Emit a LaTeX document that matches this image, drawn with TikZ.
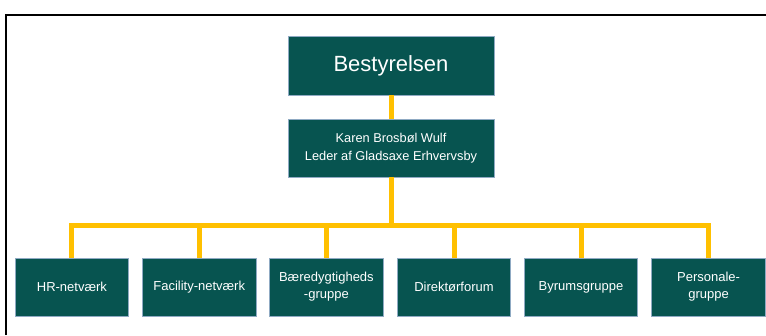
\documentclass[tikz,border=0pt]{standalone}
\usepackage{fontspec}
\setmainfont{Liberation Sans}
\usetikzlibrary{positioning}
\definecolor{gxteal}{HTML}{075450}
\definecolor{gxgold}{HTML}{FFC000}
\definecolor{gxedge}{HTML}{8FAAC3}
\tikzset{
        org_box/.style={draw=gxedge, line width=0.8pt, fill=gxteal, text=white,
                        align=center, inner sep=0pt, outer sep=0pt, minimum height=58pt},
        org_top/.style={org_box, minimum width=206pt, minimum height=59pt,
                        font=\fontsize{22}{26}\selectfont},
        org_lead/.style={org_box, minimum width=206pt, font=\fontsize{12.8}{17.5}\selectfont},
        org_unit/.style={org_box, minimum width=113.5pt, font=\fontsize{13}{17}\selectfont},
        org_line/.style={line width=5pt, draw=gxgold},
        org_frame/.style={line width=2pt, draw=black}
    }

\begin{document}
\begin{tikzpicture}[x=1pt, y=-1pt]
    \useasboundingbox (0,0) rectangle (766,335);
    \draw[org_frame] (6,335) -- (6,15) -- (766,15);
    % top of the chart
    \node[org_top] (board) at (391,65.5) {Bestyrelsen};
    \node[org_lead, below=24pt of board] (lead) {Karen Brosbøl Wulf\\Leder af Gladsaxe Erhvervsby};
    % row of groups
    \node[org_unit] (hr) at (71.9,287) {HR-netværk};
    \node[org_unit] (facility) at (199.2,287) {Facility-netværk};
    \node[org_unit] (sustain) at (326.4,287) {Bæredygtigheds\\-gruppe};
    \node[org_unit] (directors) at (454,287) {Direktørforum};
    \node[org_unit] (urban) at (581,287) {Byrumsgruppe};
    \node[org_unit] (staff) at (708.6,287) {Personale-\\gruppe};
    % connectors
    \draw[org_line] (board.south) -- (lead.north);
    \foreach \n in {hr, facility, sustain, directors, urban, staff}
        \draw[org_line] (lead.south) -- ++(0,48.5) -| (\n.north);
\end{tikzpicture}
\end{document}
